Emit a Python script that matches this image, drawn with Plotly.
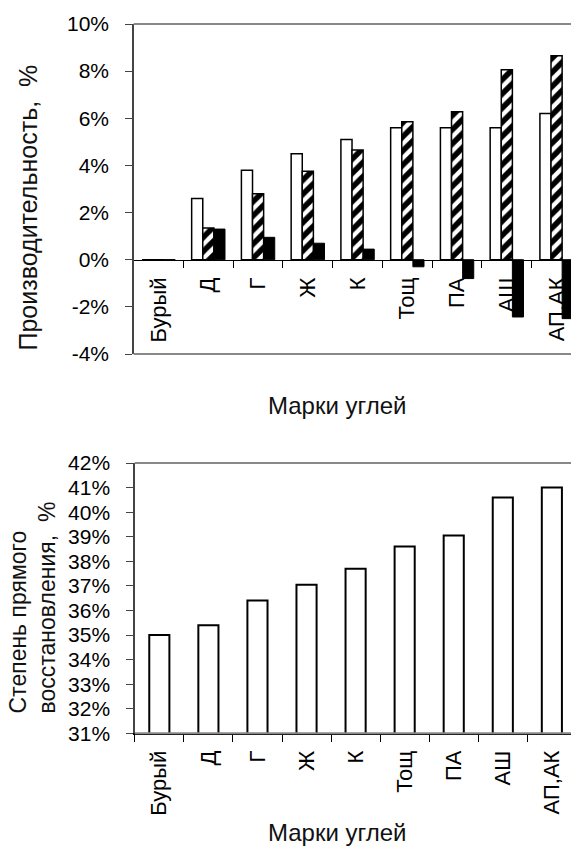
import plotly.graph_objects as go

# ---- data ----
categories = ["Бурый", "Д", "Г", "Ж", "К", "Тощ", "ПА", "АШ", "АП,АК"]
prod_white = [0, 2.6, 3.8, 4.5, 5.1, 5.6, 5.6, 5.6, 6.2]
prod_hatched = [0, 1.35, 2.8, 3.75, 4.65, 5.85, 6.28, 8.06, 8.65]
prod_black = [0, 1.3, 0.95, 0.7, 0.45, -0.3, -0.8, -2.43, -2.5]
direct_reduction = [35.0, 35.4, 36.4, 37.05, 37.7, 38.6, 39.05, 40.6, 41.0]

top_ticks = [-4, -2, 0, 2, 4, 6, 8, 10]
top_ticktext = ["-4%", "-2%", "0%", "2%", "4%", "6%", "8%", "10%"]
bot_ticks = list(range(31, 43))
bot_ticktext = [f"{v}%" for v in bot_ticks]

W, H = 571, 847
FONT = "Liberation Sans, Arial, sans-serif"

def px_x(p):
    return p / W

def px_y(p):
    return 1 - p / H

fig = go.Figure()

fig.add_trace(go.Bar(x=categories, y=prod_white, xaxis="x", yaxis="y",
                     marker=dict(color="white", line=dict(color="black", width=1.5)),
                     showlegend=False, hoverinfo="skip"))
fig.add_trace(go.Bar(x=categories, y=prod_hatched, xaxis="x", yaxis="y",
                     marker=dict(color="white", line=dict(color="black", width=1.5),
                                 pattern=dict(shape="/", fgcolor="black", bgcolor="white",
                                              size=10, solidity=0.55)),
                     showlegend=False, hoverinfo="skip"))
fig.add_trace(go.Bar(x=categories, y=prod_black, xaxis="x", yaxis="y",
                     marker=dict(color="black", line=dict(color="black", width=1)),
                     showlegend=False, hoverinfo="skip"))

fig.add_trace(go.Bar(x=categories, y=direct_reduction, xaxis="x2", yaxis="y2",
                     width=0.41,
                     marker=dict(color="white", line=dict(color="black", width=2)),
                     showlegend=False, hoverinfo="skip"))

top_y0, top_y1 = px_y(354), px_y(24)
bot_y0, bot_y1 = px_y(733.3), px_y(463)
zero_pos = top_y0 + (4 / 14) * (top_y1 - top_y0)

tickfont = dict(family=FONT, size=21, color="black")
xtickfont = dict(family=FONT, size=22, color="black")

fig.update_layout(
    template="none",
    width=W, height=H,
    margin=dict(l=0, r=0, t=0, b=0, pad=0, autoexpand=False),
    paper_bgcolor="white", plot_bgcolor="white",
    barmode="group", bargap=0.33, bargroupgap=0,
    showlegend=False,
    xaxis=dict(domain=[px_x(133.7), 1], range=[-0.5, 8.29], anchor="free",
               position=zero_pos, showline=True, linecolor="black", linewidth=1,
               ticks="outside", ticklen=7, tickcolor="black", tickson="boundaries",
               tickangle=-90, tickfont=xtickfont, showgrid=False, zeroline=False,
               layer="below traces", ticklabelstandoff=8, automargin=False),
    yaxis=dict(domain=[top_y0, top_y1], range=[-4, 10], tickvals=top_ticks,
               ticktext=top_ticktext, showline=True, linecolor="#444", linewidth=1.5,
               ticks="outside", ticklen=7, tickcolor="#444", tickfont=tickfont,
               showgrid=False, zeroline=False, ticklabelstandoff=12, anchor="x",
               automargin=False),
    xaxis2=dict(domain=[px_x(134.8), 1], range=[-0.5, 8.39], anchor="y2",
                showline=True, linecolor="black", linewidth=1.5,
                ticks="outside", ticklen=7, tickcolor="black", tickson="boundaries",
                tickangle=-90, tickfont=xtickfont, showgrid=False, zeroline=False,
                ticklabelstandoff=7, automargin=False),
    yaxis2=dict(domain=[bot_y0, bot_y1], range=[31, 42], tickvals=bot_ticks,
                ticktext=bot_ticktext, showline=True, linecolor="#444", linewidth=1.5,
                ticks="outside", ticklen=7, tickcolor="#444", tickfont=tickfont,
                showgrid=False, zeroline=False, ticklabelstandoff=12, anchor="x2",
                automargin=False),
)

# gray plot-area borders (top and bottom)
for xr, yr in (("x domain", "y domain"), ("x2 domain", "y2 domain")):
    for yy in (0, 1):
        fig.add_shape(type="line", xref=xr, yref=yr, x0=0, x1=1, y0=yy, y1=yy,
                      line=dict(color="#888888", width=2), layer="above")

titlefont = dict(family=FONT, size=24, color="#111")
fig.add_annotation(text="Производительность,  %", xref="paper", yref="paper",
                   x=px_x(27), y=px_y(207.5), textangle=-90, showarrow=False,
                   xanchor="center", yanchor="middle",
                   font=dict(family=FONT, size=25, color="#111"))
fig.add_annotation(text="Степень прямого<br>восстановления,  %", xref="paper", yref="paper",
                   x=px_x(32), y=px_y(607.5), textangle=-90, showarrow=False, align="left",
                   xanchor="center", yanchor="middle",
                   font=dict(family=FONT, size=23, color="#111"))
fig.add_annotation(text="Марки углей", xref="paper", yref="paper",
                   x=px_x(337.5), y=px_y(405), showarrow=False,
                   xanchor="center", yanchor="middle", font=titlefont)
fig.add_annotation(text="Марки углей", xref="paper", yref="paper",
                   x=px_x(337.5), y=px_y(832), showarrow=False,
                   xanchor="center", yanchor="middle", font=titlefont)

fig.write_html(
    "out.html",
    config={"displayModeBar": False, "staticPlot": True},
    post_script="document.body.style.margin='0px';document.body.style.padding='0px';"
                "document.body.style.overflow='hidden';",
)
